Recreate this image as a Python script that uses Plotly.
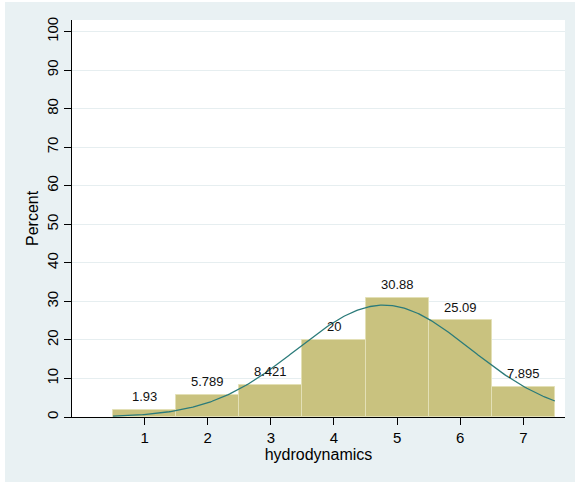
import numpy as np
import plotly.graph_objects as go

# Data
categories = [1, 2, 3, 4, 5, 6, 7]
percents = [1.93, 5.789, 8.421, 20, 30.88, 25.09, 7.895]
labels = ["1.93", "5.789", "8.421", "20", "30.88", "25.09", "7.895"]
y_ticks = [0, 10, 20, 30, 40, 50, 60, 70, 80, 90, 100]

# Normal density (percent scale, bin width 1) fitted to the histogram
cats = np.array(categories, dtype=float)
w = np.array(percents) / np.sum(percents)
mu = np.sum(w * cats)
sd = np.sqrt(np.sum(w * (cats - mu) ** 2))
xs = np.linspace(cats.min() - 0.5, cats.max() + 0.5, 300)
ys = 100 * np.exp(-0.5 * ((xs - mu) / sd) ** 2) / (sd * np.sqrt(2 * np.pi))

FONT = "Arial, Liberation Sans, sans-serif"
BG = "#e9f1f3"

fig = go.Figure()
fig.add_trace(go.Bar(
    x=categories, y=percents, width=1,
    marker=dict(color="#c9c27f", line=dict(color="#e3e0b6", width=1)),
    hoverinfo="skip",
))
fig.add_trace(go.Scatter(
    x=xs, y=ys, mode="lines",
    line=dict(color="#2b7b7a", width=1.3),
    hoverinfo="skip",
))

for c, p, t in zip(categories, percents, labels):
    fig.add_annotation(x=c, y=p, text=t, showarrow=False, yanchor="middle",
                       yshift=13, font=dict(family=FONT, size=13, color="#111"))

L, R, T, B = 72, 10, 20, 65
W, H = 575, 482
pw, ph = W - L - R, H - T - B
def px(xp):
    return (xp - L) / pw
def py(yp):
    return (H - B - yp) / ph

# y-axis title
fig.add_annotation(x=px(33), y=py(218), xref="paper", yref="paper", text="Percent",
                   textangle=-90, showarrow=False, xanchor="center", yanchor="middle",
                   font=dict(family=FONT, size=16, color="#000"))

# white thin strips at left/top edge of the picture
fig.add_shape(type="rect", xref="paper", yref="paper", x0=px(0), x1=px(5), y0=py(482), y1=py(0),
              fillcolor="white", line_width=0, layer="below")
fig.add_shape(type="rect", xref="paper", yref="paper", x0=px(0), x1=px(575), y0=py(2), y1=py(0),
              fillcolor="white", line_width=0, layer="below")

fig.update_layout(
    width=W, height=H, autosize=False,
    margin=dict(l=L, r=R, t=T, b=B),
    paper_bgcolor=BG, plot_bgcolor="white",
    showlegend=False, bargap=0,
    font=dict(family=FONT, color="#000"),
)
fig.update_xaxes(
    range=[-0.15, 7.66], tickvals=categories, ticks="outside", ticklen=7,
    tickcolor="#000", showline=True, linecolor="#000", linewidth=1.3,
    showgrid=False, zeroline=False, tickfont=dict(size=15),
    ticklabelstandoff=0,
    title=dict(text="hydrodynamics", font=dict(size=16), standoff=0),
)
fig.update_yaxes(
    range=[0, 103], tickvals=y_ticks, ticks="outside", ticklen=7,
    tickcolor="#000", showline=True, linecolor="#000", linewidth=1.3,
    showgrid=True, gridcolor="#e6eef0", gridwidth=1, zeroline=False,
    tickangle=-90, tickfont=dict(size=15), ticklabelstandoff=0,
)

fig.write_html("out.html", config={"displayModeBar": False},
               post_script="document.body.style.margin='0px';")
